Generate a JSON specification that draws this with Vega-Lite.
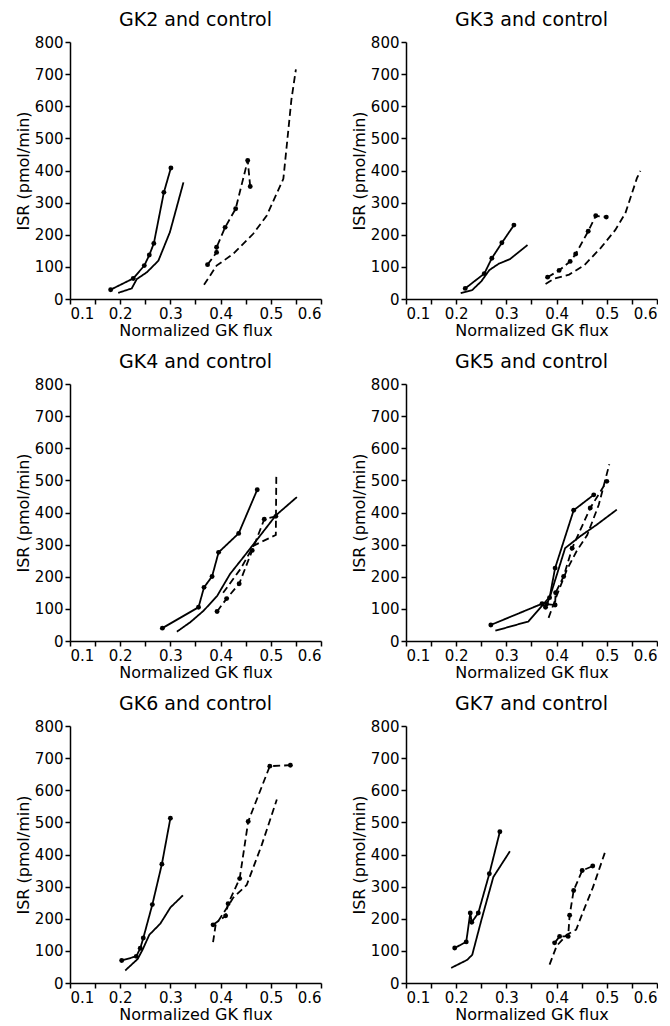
{
  "$schema": "https://vega.github.io/schema/vega-lite/v6.json",
  "padding": {"left": 15, "top": 11, "right": 0, "bottom": 0},
  "background": "white",
  "data": {"values": [
    {"panel":"GK2 and control","subject":"GK","protocol":"1","i":1,"x":0.181,"y":29},
    {"panel":"GK2 and control","subject":"GK","protocol":"1","i":2,"x":0.226,"y":64},
    {"panel":"GK2 and control","subject":"GK","protocol":"1","i":3,"x":0.248,"y":104},
    {"panel":"GK2 and control","subject":"GK","protocol":"1","i":4,"x":0.258,"y":137},
    {"panel":"GK2 and control","subject":"GK","protocol":"1","i":5,"x":0.267,"y":173},
    {"panel":"GK2 and control","subject":"GK","protocol":"1","i":6,"x":0.287,"y":332},
    {"panel":"GK2 and control","subject":"GK","protocol":"1","i":7,"x":0.301,"y":408},
    {"panel":"GK2 and control","subject":"control","protocol":"1","i":1,"x":0.196,"y":19},
    {"panel":"GK2 and control","subject":"control","protocol":"1","i":2,"x":0.223,"y":33},
    {"panel":"GK2 and control","subject":"control","protocol":"1","i":3,"x":0.233,"y":62},
    {"panel":"GK2 and control","subject":"control","protocol":"1","i":4,"x":0.253,"y":83},
    {"panel":"GK2 and control","subject":"control","protocol":"1","i":5,"x":0.276,"y":119},
    {"panel":"GK2 and control","subject":"control","protocol":"1","i":6,"x":0.299,"y":208},
    {"panel":"GK2 and control","subject":"control","protocol":"1","i":7,"x":0.326,"y":363},
    {"panel":"GK2 and control","subject":"GK","protocol":"2","i":1,"x":0.374,"y":107},
    {"panel":"GK2 and control","subject":"GK","protocol":"2","i":2,"x":0.392,"y":145},
    {"panel":"GK2 and control","subject":"GK","protocol":"2","i":3,"x":0.392,"y":161},
    {"panel":"GK2 and control","subject":"GK","protocol":"2","i":4,"x":0.409,"y":223},
    {"panel":"GK2 and control","subject":"GK","protocol":"2","i":5,"x":0.430,"y":281},
    {"panel":"GK2 and control","subject":"GK","protocol":"2","i":6,"x":0.454,"y":431},
    {"panel":"GK2 and control","subject":"GK","protocol":"2","i":7,"x":0.459,"y":350},
    {"panel":"GK2 and control","subject":"control","protocol":"2","i":1,"x":0.367,"y":44},
    {"panel":"GK2 and control","subject":"control","protocol":"2","i":2,"x":0.392,"y":104},
    {"panel":"GK2 and control","subject":"control","protocol":"2","i":3,"x":0.425,"y":140},
    {"panel":"GK2 and control","subject":"control","protocol":"2","i":4,"x":0.465,"y":203},
    {"panel":"GK2 and control","subject":"control","protocol":"2","i":5,"x":0.492,"y":260},
    {"panel":"GK2 and control","subject":"control","protocol":"2","i":6,"x":0.525,"y":374},
    {"panel":"GK2 and control","subject":"control","protocol":"2","i":7,"x":0.530,"y":450},
    {"panel":"GK2 and control","subject":"control","protocol":"2","i":8,"x":0.541,"y":620},
    {"panel":"GK2 and control","subject":"control","protocol":"2","i":9,"x":0.550,"y":715},

    {"panel":"GK3 and control","subject":"GK","protocol":"1","i":1,"x":0.218,"y":33},
    {"panel":"GK3 and control","subject":"GK","protocol":"1","i":2,"x":0.256,"y":79},
    {"panel":"GK3 and control","subject":"GK","protocol":"1","i":3,"x":0.271,"y":127},
    {"panel":"GK3 and control","subject":"GK","protocol":"1","i":4,"x":0.291,"y":175},
    {"panel":"GK3 and control","subject":"GK","protocol":"1","i":5,"x":0.315,"y":230},
    {"panel":"GK3 and control","subject":"control","protocol":"1","i":1,"x":0.209,"y":18},
    {"panel":"GK3 and control","subject":"control","protocol":"1","i":2,"x":0.232,"y":28},
    {"panel":"GK3 and control","subject":"control","protocol":"1","i":3,"x":0.250,"y":55},
    {"panel":"GK3 and control","subject":"control","protocol":"1","i":4,"x":0.266,"y":90},
    {"panel":"GK3 and control","subject":"control","protocol":"1","i":5,"x":0.285,"y":110},
    {"panel":"GK3 and control","subject":"control","protocol":"1","i":6,"x":0.307,"y":124},
    {"panel":"GK3 and control","subject":"control","protocol":"1","i":7,"x":0.342,"y":168},
    {"panel":"GK3 and control","subject":"GK","protocol":"2","i":1,"x":0.382,"y":68},
    {"panel":"GK3 and control","subject":"GK","protocol":"2","i":2,"x":0.405,"y":89},
    {"panel":"GK3 and control","subject":"GK","protocol":"2","i":3,"x":0.427,"y":117},
    {"panel":"GK3 and control","subject":"GK","protocol":"2","i":4,"x":0.438,"y":140},
    {"panel":"GK3 and control","subject":"GK","protocol":"2","i":5,"x":0.463,"y":211},
    {"panel":"GK3 and control","subject":"GK","protocol":"2","i":6,"x":0.478,"y":259},
    {"panel":"GK3 and control","subject":"GK","protocol":"2","i":7,"x":0.499,"y":255},
    {"panel":"GK3 and control","subject":"control","protocol":"2","i":1,"x":0.378,"y":47},
    {"panel":"GK3 and control","subject":"control","protocol":"2","i":2,"x":0.395,"y":63},
    {"panel":"GK3 and control","subject":"control","protocol":"2","i":3,"x":0.425,"y":76},
    {"panel":"GK3 and control","subject":"control","protocol":"2","i":4,"x":0.455,"y":105},
    {"panel":"GK3 and control","subject":"control","protocol":"2","i":5,"x":0.488,"y":159},
    {"panel":"GK3 and control","subject":"control","protocol":"2","i":6,"x":0.517,"y":215},
    {"panel":"GK3 and control","subject":"control","protocol":"2","i":7,"x":0.537,"y":267},
    {"panel":"GK3 and control","subject":"control","protocol":"2","i":8,"x":0.560,"y":376},
    {"panel":"GK3 and control","subject":"control","protocol":"2","i":9,"x":0.567,"y":399},

    {"panel":"GK4 and control","subject":"GK","protocol":"1","i":1,"x":0.284,"y":40},
    {"panel":"GK4 and control","subject":"GK","protocol":"1","i":2,"x":0.356,"y":105},
    {"panel":"GK4 and control","subject":"GK","protocol":"1","i":3,"x":0.367,"y":167},
    {"panel":"GK4 and control","subject":"GK","protocol":"1","i":4,"x":0.383,"y":201},
    {"panel":"GK4 and control","subject":"GK","protocol":"1","i":5,"x":0.396,"y":276},
    {"panel":"GK4 and control","subject":"GK","protocol":"1","i":6,"x":0.436,"y":335},
    {"panel":"GK4 and control","subject":"GK","protocol":"1","i":7,"x":0.473,"y":471},
    {"panel":"GK4 and control","subject":"control","protocol":"1","i":1,"x":0.313,"y":29},
    {"panel":"GK4 and control","subject":"control","protocol":"1","i":2,"x":0.340,"y":59},
    {"panel":"GK4 and control","subject":"control","protocol":"1","i":3,"x":0.366,"y":94},
    {"panel":"GK4 and control","subject":"control","protocol":"1","i":4,"x":0.393,"y":140},
    {"panel":"GK4 and control","subject":"control","protocol":"1","i":5,"x":0.419,"y":209},
    {"panel":"GK4 and control","subject":"control","protocol":"1","i":6,"x":0.450,"y":270},
    {"panel":"GK4 and control","subject":"control","protocol":"1","i":7,"x":0.510,"y":391},
    {"panel":"GK4 and control","subject":"control","protocol":"1","i":8,"x":0.552,"y":448},
    {"panel":"GK4 and control","subject":"GK","protocol":"2","i":1,"x":0.393,"y":92},
    {"panel":"GK4 and control","subject":"GK","protocol":"2","i":2,"x":0.412,"y":132},
    {"panel":"GK4 and control","subject":"GK","protocol":"2","i":3,"x":0.437,"y":178},
    {"panel":"GK4 and control","subject":"GK","protocol":"2","i":4,"x":0.463,"y":282},
    {"panel":"GK4 and control","subject":"GK","protocol":"2","i":5,"x":0.487,"y":379},
    {"panel":"GK4 and control","subject":"GK","protocol":"2","i":6,"x":0.510,"y":388},
    {"panel":"GK4 and control","subject":"control","protocol":"2","i":1,"x":0.405,"y":150},
    {"panel":"GK4 and control","subject":"control","protocol":"2","i":2,"x":0.440,"y":225},
    {"panel":"GK4 and control","subject":"control","protocol":"2","i":3,"x":0.466,"y":297},
    {"panel":"GK4 and control","subject":"control","protocol":"2","i":4,"x":0.510,"y":330},
    {"panel":"GK4 and control","subject":"control","protocol":"2","i":5,"x":0.511,"y":520},

    {"panel":"GK5 and control","subject":"GK","protocol":"1","i":1,"x":0.269,"y":50},
    {"panel":"GK5 and control","subject":"GK","protocol":"1","i":2,"x":0.371,"y":116},
    {"panel":"GK5 and control","subject":"GK","protocol":"1","i":3,"x":0.378,"y":105},
    {"panel":"GK5 and control","subject":"GK","protocol":"1","i":4,"x":0.386,"y":135},
    {"panel":"GK5 and control","subject":"GK","protocol":"1","i":5,"x":0.397,"y":227},
    {"panel":"GK5 and control","subject":"GK","protocol":"1","i":6,"x":0.434,"y":407},
    {"panel":"GK5 and control","subject":"GK","protocol":"1","i":7,"x":0.474,"y":455},
    {"panel":"GK5 and control","subject":"control","protocol":"1","i":1,"x":0.278,"y":32},
    {"panel":"GK5 and control","subject":"control","protocol":"1","i":2,"x":0.344,"y":61},
    {"panel":"GK5 and control","subject":"control","protocol":"1","i":3,"x":0.364,"y":97},
    {"panel":"GK5 and control","subject":"control","protocol":"1","i":4,"x":0.387,"y":139},
    {"panel":"GK5 and control","subject":"control","protocol":"1","i":5,"x":0.417,"y":289},
    {"panel":"GK5 and control","subject":"control","protocol":"1","i":6,"x":0.447,"y":326},
    {"panel":"GK5 and control","subject":"control","protocol":"1","i":7,"x":0.480,"y":362},
    {"panel":"GK5 and control","subject":"control","protocol":"1","i":8,"x":0.520,"y":409},
    {"panel":"GK5 and control","subject":"GK","protocol":"2","i":1,"x":0.380,"y":115},
    {"panel":"GK5 and control","subject":"GK","protocol":"2","i":2,"x":0.397,"y":112},
    {"panel":"GK5 and control","subject":"GK","protocol":"2","i":3,"x":0.398,"y":150},
    {"panel":"GK5 and control","subject":"GK","protocol":"2","i":4,"x":0.414,"y":201},
    {"panel":"GK5 and control","subject":"GK","protocol":"2","i":5,"x":0.431,"y":289},
    {"panel":"GK5 and control","subject":"GK","protocol":"2","i":6,"x":0.467,"y":414},
    {"panel":"GK5 and control","subject":"GK","protocol":"2","i":7,"x":0.500,"y":497},
    {"panel":"GK5 and control","subject":"control","protocol":"2","i":1,"x":0.384,"y":72},
    {"panel":"GK5 and control","subject":"control","protocol":"2","i":2,"x":0.400,"y":140},
    {"panel":"GK5 and control","subject":"control","protocol":"2","i":3,"x":0.420,"y":220},
    {"panel":"GK5 and control","subject":"control","protocol":"2","i":4,"x":0.440,"y":280},
    {"panel":"GK5 and control","subject":"control","protocol":"2","i":5,"x":0.461,"y":330},
    {"panel":"GK5 and control","subject":"control","protocol":"2","i":6,"x":0.484,"y":424},
    {"panel":"GK5 and control","subject":"control","protocol":"2","i":7,"x":0.505,"y":550},

    {"panel":"GK6 and control","subject":"GK","protocol":"1","i":1,"x":0.203,"y":70},
    {"panel":"GK6 and control","subject":"GK","protocol":"1","i":2,"x":0.232,"y":83},
    {"panel":"GK6 and control","subject":"GK","protocol":"1","i":3,"x":0.240,"y":108},
    {"panel":"GK6 and control","subject":"GK","protocol":"1","i":4,"x":0.246,"y":140},
    {"panel":"GK6 and control","subject":"GK","protocol":"1","i":5,"x":0.264,"y":244},
    {"panel":"GK6 and control","subject":"GK","protocol":"1","i":6,"x":0.283,"y":370},
    {"panel":"GK6 and control","subject":"GK","protocol":"1","i":7,"x":0.300,"y":513},
    {"panel":"GK6 and control","subject":"control","protocol":"1","i":1,"x":0.210,"y":39},
    {"panel":"GK6 and control","subject":"control","protocol":"1","i":2,"x":0.235,"y":75},
    {"panel":"GK6 and control","subject":"control","protocol":"1","i":3,"x":0.245,"y":105},
    {"panel":"GK6 and control","subject":"control","protocol":"1","i":4,"x":0.258,"y":150},
    {"panel":"GK6 and control","subject":"control","protocol":"1","i":5,"x":0.280,"y":185},
    {"panel":"GK6 and control","subject":"control","protocol":"1","i":6,"x":0.300,"y":235},
    {"panel":"GK6 and control","subject":"control","protocol":"1","i":7,"x":0.325,"y":273},
    {"panel":"GK6 and control","subject":"GK","protocol":"2","i":1,"x":0.385,"y":181},
    {"panel":"GK6 and control","subject":"GK","protocol":"2","i":2,"x":0.410,"y":209},
    {"panel":"GK6 and control","subject":"GK","protocol":"2","i":3,"x":0.415,"y":247},
    {"panel":"GK6 and control","subject":"GK","protocol":"2","i":4,"x":0.438,"y":325},
    {"panel":"GK6 and control","subject":"GK","protocol":"2","i":5,"x":0.455,"y":503},
    {"panel":"GK6 and control","subject":"GK","protocol":"2","i":6,"x":0.498,"y":675},
    {"panel":"GK6 and control","subject":"GK","protocol":"2","i":7,"x":0.539,"y":678},
    {"panel":"GK6 and control","subject":"control","protocol":"2","i":1,"x":0.385,"y":127},
    {"panel":"GK6 and control","subject":"control","protocol":"2","i":2,"x":0.390,"y":180},
    {"panel":"GK6 and control","subject":"control","protocol":"2","i":3,"x":0.415,"y":240},
    {"panel":"GK6 and control","subject":"control","protocol":"2","i":4,"x":0.425,"y":265},
    {"panel":"GK6 and control","subject":"control","protocol":"2","i":5,"x":0.452,"y":305},
    {"panel":"GK6 and control","subject":"control","protocol":"2","i":6,"x":0.482,"y":430},
    {"panel":"GK6 and control","subject":"control","protocol":"2","i":7,"x":0.512,"y":571},

    {"panel":"GK7 and control","subject":"GK","protocol":"1","i":1,"x":0.197,"y":109},
    {"panel":"GK7 and control","subject":"GK","protocol":"1","i":2,"x":0.220,"y":128},
    {"panel":"GK7 and control","subject":"GK","protocol":"1","i":3,"x":0.228,"y":218},
    {"panel":"GK7 and control","subject":"GK","protocol":"1","i":4,"x":0.231,"y":189},
    {"panel":"GK7 and control","subject":"GK","protocol":"1","i":5,"x":0.244,"y":218},
    {"panel":"GK7 and control","subject":"GK","protocol":"1","i":6,"x":0.266,"y":340},
    {"panel":"GK7 and control","subject":"GK","protocol":"1","i":7,"x":0.287,"y":471},
    {"panel":"GK7 and control","subject":"control","protocol":"1","i":1,"x":0.190,"y":47},
    {"panel":"GK7 and control","subject":"control","protocol":"1","i":2,"x":0.222,"y":72},
    {"panel":"GK7 and control","subject":"control","protocol":"1","i":3,"x":0.232,"y":88},
    {"panel":"GK7 and control","subject":"control","protocol":"1","i":4,"x":0.250,"y":195},
    {"panel":"GK7 and control","subject":"control","protocol":"1","i":5,"x":0.274,"y":330},
    {"panel":"GK7 and control","subject":"control","protocol":"1","i":6,"x":0.307,"y":410},
    {"panel":"GK7 and control","subject":"GK","protocol":"2","i":1,"x":0.396,"y":125},
    {"panel":"GK7 and control","subject":"GK","protocol":"2","i":2,"x":0.406,"y":145},
    {"panel":"GK7 and control","subject":"GK","protocol":"2","i":3,"x":0.423,"y":145},
    {"panel":"GK7 and control","subject":"GK","protocol":"2","i":4,"x":0.426,"y":211},
    {"panel":"GK7 and control","subject":"GK","protocol":"2","i":5,"x":0.434,"y":288},
    {"panel":"GK7 and control","subject":"GK","protocol":"2","i":6,"x":0.451,"y":350},
    {"panel":"GK7 and control","subject":"GK","protocol":"2","i":7,"x":0.472,"y":364},
    {"panel":"GK7 and control","subject":"control","protocol":"2","i":1,"x":0.386,"y":57},
    {"panel":"GK7 and control","subject":"control","protocol":"2","i":2,"x":0.400,"y":115},
    {"panel":"GK7 and control","subject":"control","protocol":"2","i":3,"x":0.420,"y":150},
    {"panel":"GK7 and control","subject":"control","protocol":"2","i":4,"x":0.439,"y":166},
    {"panel":"GK7 and control","subject":"control","protocol":"2","i":5,"x":0.453,"y":223},
    {"panel":"GK7 and control","subject":"control","protocol":"2","i":6,"x":0.472,"y":296},
    {"panel":"GK7 and control","subject":"control","protocol":"2","i":7,"x":0.496,"y":405}
  ]},
  "columns": 2,
  "spacing": {"row": 15, "column": 29},
  "facet": {
    "field": "panel", "type": "nominal",
    "sort": ["GK2 and control","GK3 and control","GK4 and control","GK5 and control","GK6 and control","GK7 and control"],
    "title": null,
    "header": {"labelFont": "DejaVu Sans", "labelFontSize": 19, "labelColor": "black", "labelPadding": 5}
  },
  "resolve": {"axis": {"x": "independent", "y": "independent"}},
  "spec": {
    "width": 251,
    "height": 257,
    "encoding": {
      "x": {"field": "x", "type": "quantitative",
            "scale": {"domain": [0.1, 0.6]},
            "axis": {"title": "Normalized GK flux", "format": ".1f", "titlePadding": 1,
                     "values": [0.1,0.15,0.2,0.25,0.3,0.35,0.4,0.45,0.5,0.55,0.6],
                     "labelExpr": "abs(datum.value*10 - round(datum.value*10)) < 0.01 ? datum.label : ''"}},
      "y": {"field": "y", "type": "quantitative",
            "scale": {"domain": [0, 800]},
            "axis": {"title": "ISR (pmol/min)", "values": [0,100,200,300,400,500,600,700,800]}}
    },
    "layer": [
      {"mark": {"type": "line", "color": "black", "strokeWidth": 1.8},
       "encoding": {
         "detail": {"field": "subject"},
         "strokeDash": {"field": "protocol", "type": "nominal",
                        "scale": {"domain": ["1","2"], "range": [[1,0],[7,4]]}, "legend": null},
         "order": {"field": "i", "type": "quantitative"}
       }},
      {"transform": [{"filter": "datum.subject === 'GK'"}],
       "mark": {"type": "circle", "color": "black", "opacity": 1, "size": 24},
       "encoding": {}}
    ]
  },
  "config": {
    "view": {"stroke": null},
    "axis": {"grid": false, "domainColor": "black", "tickColor": "black", "labelColor": "black", "titleColor": "black",
             "labelFont": "DejaVu Sans", "titleFont": "DejaVu Sans", "labelFontSize": 15, "titleFontSize": 16,
             "titleFontWeight": "normal", "tickSize": 5, "domainWidth": 1.5, "tickWidth": 1.5, "labelPadding": 2, "titlePadding": 3}
  }
}
